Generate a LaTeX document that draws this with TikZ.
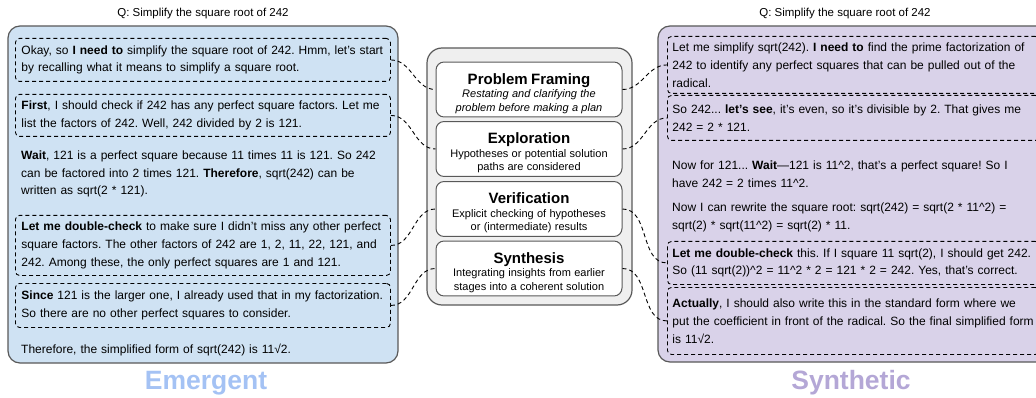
\documentclass[tikz,border=0pt]{standalone}
\usepackage{fontspec}
\setmainfont{Liberation Sans}
\frenchspacing
\hyphenpenalty=10000
\exhyphenpenalty=10000
\definecolor{emfill}{HTML}{CFE2F3}
\definecolor{synfill}{HTML}{D9D2E9}
\definecolor{emtag}{HTML}{A4C2F4}
\definecolor{syntag}{HTML}{B4A7D6}
\definecolor{stagefill}{HTML}{EFEFEF}
\definecolor{edgegray}{HTML}{595959}
\begin{document}
\begin{tikzpicture}[x=1pt,y=-1pt,
  panel/.style={draw=edgegray, line width=1.2pt, rounded corners=12pt},
  thought/.style={draw, dash pattern=on 4pt off 3pt, line width=0.9pt, rounded corners=4pt,
    inner xsep=6pt, inner ysep=0pt, align=left, anchor=north west,
    font=\fontsize{12}{17.8}\selectfont},
  said/.style={inner xsep=6pt, inner ysep=0pt, align=left, anchor=west,
    font=\fontsize{12}{17.8}\selectfont},
  stagebox/.style={draw=edgegray, fill=white, line width=1pt, rounded corners=8pt,
    minimum width=186pt, text width=176pt, inner xsep=5pt, align=center},
  link/.style={dash pattern=on 4pt off 3pt, line width=0.9pt},
  question/.style={font=\fontsize{11.5}{14}\selectfont},
  sourcetag/.style={font=\fontsize{26.5}{30}\selectfont\bfseries}]
\useasboundingbox (0,0) rectangle (1036,398);
\draw [panel, fill=emfill] (8,26) rectangle (398,363);
\draw [panel, fill=synfill] (658,26) rectangle (1060,362);
\draw [draw=edgegray, fill=stagefill, line width=1.2pt, rounded corners=15pt] (427,48) rectangle (632,305);
\node [question] (emQ) at (203,14) {Q: Simplify the square root of 242};
\node [question] (synQ) at (845,14) {Q: Simplify the square root of 242};
\node [sourcetag, text=emtag] (emTag) at (206,383) {Emergent};
\node [sourcetag, text=syntag] (synTag) at (851,383) {Synthetic};
\node [thought, text width=363pt, minimum height=43pt] (emFrame) at (15,38) {Okay, so \textbf{I need to} simplify the square root of 242. Hmm, let's start\\by recalling what it means to simplify a square root.};
\node [thought, text width=363pt, minimum height=42pt] (emExplore) at (15,94) {\textbf{First}, I should check if 242 has any perfect square factors. Let me\\list the factors of 242. Well, 242 divided by 2 is 121.};
\node [said, text width=363pt] (emWait) at (15,174) {\textbf{Wait}, 121 is a perfect square because 11 times 11 is 121. So 242\\can be factored into 2 times 121. \textbf{Therefore}, sqrt(242) can be\\written as sqrt(2 * 121).};
\node [thought, text width=363pt, minimum height=60pt] (emVerify) at (15,215) {\textbf{Let me double-check} to make sure I didn't miss any other perfect\\square factors. The other factors of 242 are 1, 2, 11, 22, 121, and\\242. Among these, the only perfect squares are 1 and 121.};
\node [thought, text width=363pt, minimum height=44pt] (emSynth) at (15,283) {\textbf{Since} 121 is the larger one, I already used that in my factorization.\\So there are no other perfect squares to consider.};
\node [said, text width=363pt] (emFinal) at (15,350) {Therefore, the simplified form of sqrt(242) is 11√2.};
\node [stagebox, minimum height=53pt] (framing) at (529,89.5) {{\fontsize{15}{17}\selectfont\bfseries\rule{0pt}{19pt}Problem Framing\par}{\fontsize{11}{13.5}\selectfont\itshape Restating and clarifying the\\problem before making a plan\par}};
\node [stagebox, minimum height=52pt] (explore) at (529,149) {{\fontsize{15}{17}\selectfont\bfseries\rule{0pt}{19pt}Exploration\par}{\fontsize{11}{13.5}\selectfont Hypotheses or potential solution\\paths are considered\par}};
\node [stagebox, minimum height=52pt] (verify) at (529,209) {{\fontsize{15}{17}\selectfont\bfseries\rule{0pt}{19pt}Verification\par}{\fontsize{11}{13.5}\selectfont Explicit checking of hypotheses\\or (intermediate) results\par}};
\node [stagebox, minimum height=51pt] (synth) at (529,268.5) {{\fontsize{15}{17}\selectfont\bfseries\rule{0pt}{19pt}Synthesis\par}{\fontsize{11}{13.5}\selectfont Integrating insights from earlier\\stages into a coherent solution\par}};
\node [thought, text width=362pt, inner xsep=5pt, minimum height=57pt] (synFrame) at (667,36) {Let me simplify sqrt(242). \textbf{I need to} find the prime factorization of\\242 to identify any perfect squares that can be pulled out of the\\radical.};
\node [thought, text width=362pt, inner xsep=5pt, minimum height=45pt] (synExplore) at (667,95) {So 242... \textbf{let's see}, it's even, so it's divisible by 2. That gives me\\242 = 2 * 121.};
\node [said, text width=362pt, inner xsep=5pt] (synWait) at (667,174) {Now for 121... \textbf{Wait}—121 is 11\textasciicircum2, that's a perfect square! So I\\have 242 = 2 times 11\textasciicircum2.};
\node [said, text width=362pt, inner xsep=5pt] (synRewrite) at (667,217) {Now I can rewrite the square root: sqrt(242) = sqrt(2 * 11\textasciicircum2) =\\sqrt(2) * sqrt(11\textasciicircum2) = sqrt(2) * 11.};
\node [thought, text width=362pt, inner xsep=5pt, minimum height=43pt] (synVerify) at (667,241) {\textbf{Let me double-check} this. If I square 11 sqrt(2), I should get 242.\\So (11 sqrt(2))\textasciicircum2 = 11\textasciicircum2 * 2 = 121 * 2 = 242. Yes, that's correct.};
\node [thought, text width=362pt, inner xsep=5pt, minimum height=67pt] (synSynth) at (667,287) {\textbf{Actually}, I should also write this in the standard form where we\\put the coefficient in front of the radical. So the final simplified form\\is 11√2.};
\draw [link] (emFrame.east) to[out=0,in=180] (framing.west);
\draw [link] (emExplore.east) to[out=0,in=180] (explore.west);
\draw [link] (emVerify.east) to[out=0,in=180] (verify.west);
\draw [link] (emSynth.east) to[out=0,in=180] (synth.west);
\draw [link] (framing.east) to[out=0,in=180] (synFrame.west);
\draw [link] (explore.east) to[out=0,in=180] (synExplore.west);
\draw [link] (verify.east) to[out=0,in=180] (synVerify.west);
\draw [link] (synth.east) to[out=0,in=180] (synSynth.west);
\end{tikzpicture}
\end{document}
